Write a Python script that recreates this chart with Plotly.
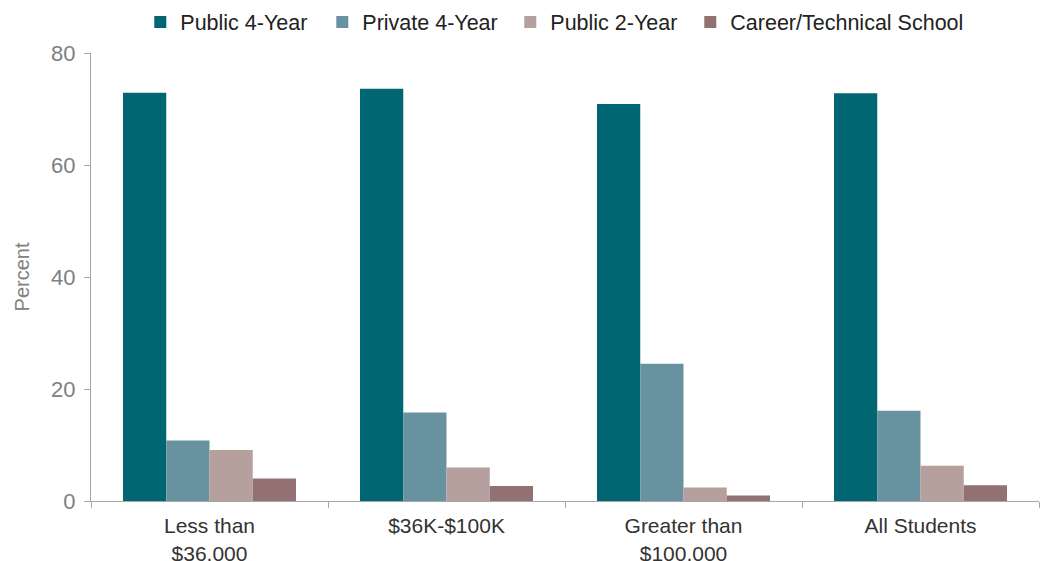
import plotly.graph_objects as go

categories = ["Less than<br>$36,000", "$36K-$100K", "Greater than<br>$100,000", "All Students"]
public_4yr = [72.9, 73.6, 70.9, 72.8]
private_4yr = [10.8, 15.8, 24.5, 16.1]
public_2yr = [9.1, 6.0, 2.4, 6.3]
career_tech = [4.0, 2.7, 1.0, 2.8]

series = [
    ("Public 4-Year", public_4yr, "#006672", 137),
    ("Private 4-Year", private_4yr, "#6892A0", 143),
    ("Public 2-Year", public_2yr, "#B5A09E", 135),
    ("Career/Technical School", career_tech, "#937172", 240),
]

font_family = "Liberation Sans, Arial, sans-serif"

fig = go.Figure()
for name, vals, color, lw in series:
    fig.add_trace(go.Bar(
        x=categories, y=vals, name=name,
        marker=dict(color=color, line=dict(width=0)),
        legendwidth=lw,
    ))

fig.update_layout(
    width=1040, height=561,
    barmode="group",
    bargap=0.27,
    bargroupgap=0,
    plot_bgcolor="white",
    paper_bgcolor="white",
    margin=dict(l=91, r=1, t=53, b=60, autoexpand=False),
    font=dict(family=font_family, color="#333333", size=21),
    legend=dict(
        orientation="h",
        x=0.052, xanchor="left",
        y=1.069, yanchor="middle",
        font=dict(size=21.5, color="#222222"),
        itemwidth=30,
        entrywidthmode="pixels",
        traceorder="normal",
        tracegroupgap=0,
    ),
    xaxis=dict(
        automargin=False,
        showline=True, linecolor="#A6A6A6", linewidth=1,
        ticks="outside", tickson="boundaries", ticklen=6, tickcolor="#A6A6A6",
        ticklabelstandoff=6,
        tickfont=dict(size=21, color="#333333"),
        showgrid=False,
    ),
    yaxis=dict(
        automargin=False,
        range=[0, 80],
        tickvals=[0, 20, 40, 60, 80],
        showline=True, linecolor="#A6A6A6", linewidth=1,
        ticks="outside", ticklen=6, tickcolor="#A6A6A6",
        ticklabelstandoff=4,
        tickfont=dict(size=22, color="#808080"),
        showgrid=False, zeroline=False,
        title=dict(text="Percent", font=dict(size=20, color="#808080"), standoff=16),
    ),
)

fig.write_html("out.html", config={"displayModeBar": False},
               post_script="document.body.style.margin='0';")
